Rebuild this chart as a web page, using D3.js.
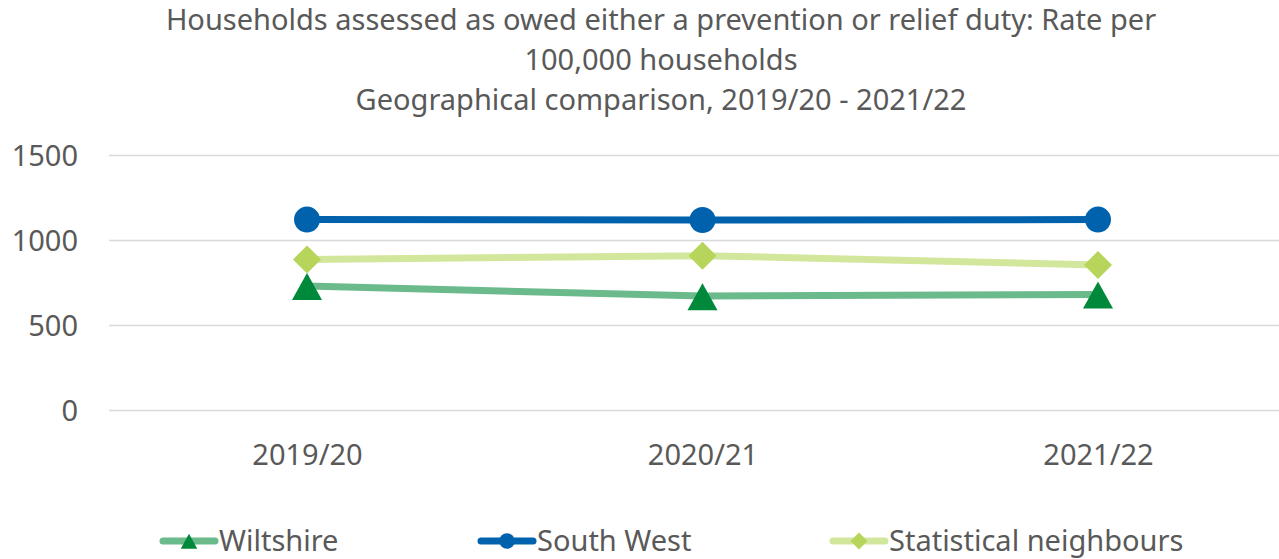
<!DOCTYPE html>
<html><head><meta charset="utf-8">
<script src="https://cdn.jsdelivr.net/npm/d3@7/dist/d3.min.js"></script>
<style>body{margin:0;background:#fff;}svg{display:block;font-family:"Noto Sans",sans-serif;}</style>
</head><body><svg id="c" width="1279" height="559"></svg>
<script>
const categories = ["2019/20", "2020/21", "2021/22"];
const wiltshire = [729, 670, 680];
const southWest = [1120, 1118, 1120];
const statNeighbours = [886, 908, 853];
const yTicks = [0, 500, 1000, 1500];
const titleLines = ["Households assessed as owed either a prevention or relief duty: Rate per", "100,000 households", "Geographical comparison, 2019/20 - 2021/22"];
const seriesNames = ["Wiltshire", "South West", "Statistical neighbours"];

const svg = d3.select("#c");
const x = d3.scalePoint().domain(categories).range([307, 1098]);
const y = d3.scaleLinear().domain([0, 1500]).range([410, 155]);
const textCol = "#595959";
const fs = 29;

// title
svg.append("g").selectAll("text").data(titleLines).join("text")
  .attr("x", 661).attr("y", (d, i) => 30 + i * 40)
  .attr("text-anchor", "middle").attr("font-size", fs).attr("fill", textCol).text(d => d);

// grid
const yAxis = d3.axisLeft(y).tickValues(yTicks).tickFormat(d3.format("d")).tickSize(-(1279 - 109));
const gy = svg.append("g").attr("transform", "translate(109,0)").call(yAxis);
gy.select(".domain").remove();
gy.selectAll(".tick line").attr("stroke", "#d9d9d9").attr("stroke-width", 1.5);
gy.selectAll(".tick text").attr("font-size", fs).attr("fill", textCol).attr("font-family", "Noto Sans").attr("dy", "0.35em").attr("x", -31);

const xAxis = d3.axisBottom(x).tickSize(0).tickPadding(0);
const gx = svg.append("g").attr("transform", "translate(0,455)").call(xAxis);
gx.select(".domain").remove();
gx.selectAll(".tick text").attr("font-size", fs).attr("fill", textCol).attr("font-family", "Noto Sans").attr("dy", "0.35em");

const series = [
  {name: seriesNames[0], vals: wiltshire, line: "#6bba8b", mark: "#00893a", shape: "tri"},
  {name: seriesNames[1], vals: southWest, line: "#0062ad", mark: "#0062ad", shape: "circle"},
  {name: seriesNames[2], vals: statNeighbours, line: "#d3e79c", mark: "#b6d55a", shape: "diamond"}
];
const line = d3.line().x((d, i) => x(categories[i])).y(d => y(d));

function drawMarker(g, shape, color, cx, cy, scale) {
  if (shape === "circle") {
    g.append("circle").attr("cx", cx).attr("cy", cy).attr("r", 13 * scale).attr("fill", color);
  } else if (shape === "diamond") {
    const r = 14 * scale;
    g.append("path").attr("d", `M${cx},${cy - r}L${cx + r},${cy}L${cx},${cy + r}L${cx - r},${cy}Z`).attr("fill", color);
  } else {
    const w = 15 * scale, h = 27 * scale;
    g.append("path").attr("d", `M${cx},${cy - h * 0.48}L${cx + w},${cy + h * 0.52}L${cx - w},${cy + h * 0.52}Z`).attr("fill", color);
  }
}

const plot = svg.append("g");
series.forEach(s => {
  plot.append("path").datum(s.vals).attr("d", line).attr("fill", "none")
    .attr("stroke", s.line).attr("stroke-width", 7).attr("stroke-linejoin", "round");
});
series.forEach(s => {
  s.vals.forEach((v, i) => drawMarker(plot, s.shape, s.mark, x(categories[i]), y(v), 1));
});

// legend
const legX = [160, 478, 830];
const lg = svg.append("g");
series.forEach((s, i) => {
  const lx = legX[i], ly = 541;
  lg.append("line").attr("x1", lx + 3).attr("x2", lx + 55).attr("y1", ly).attr("y2", ly)
    .attr("stroke", s.line).attr("stroke-width", 7).attr("stroke-linecap", "round");
  drawMarker(lg, s.shape, s.mark, lx + 29, ly, s.shape === "tri" ? 0.55 : 0.6);
  lg.append("text").attr("x", lx + 59).attr("y", ly).attr("dy", "0.35em")
    .attr("font-size", fs).attr("fill", textCol).text(s.name);
});
</script></body></html>
